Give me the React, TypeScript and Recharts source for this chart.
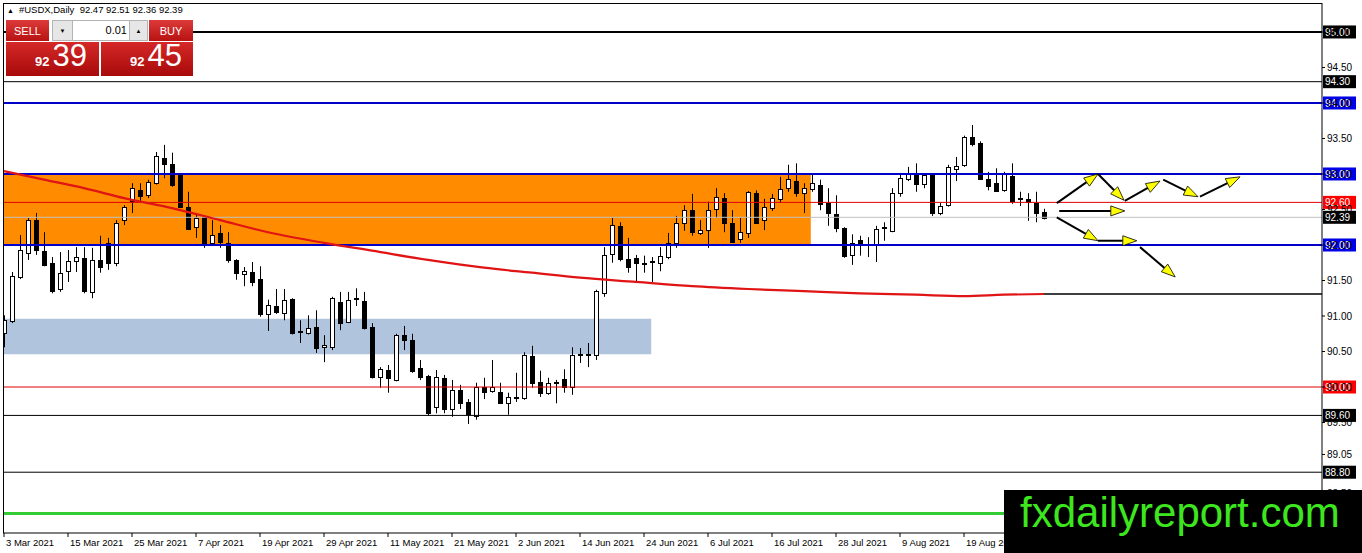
import React from "react";
import {
  ComposedChart, Bar, Line, XAxis, YAxis, ReferenceLine, ReferenceArea,
} from "recharts";

const FONT = '"Liberation Sans", Arial, sans-serif';

// daily candles, 3 Mar 2021 .. 1 Sep 2021
const OPEN = [
  90.76, 90.92, 91.55, 91.89, 92.35, 91.92, 91.75, 91.38, 91.63, 91.77,
  91.82, 91.34, 91.79, 92.03, 91.75, 92.35, 92.61, 92.77, 92.70, 92.87,
  93.23, 93.14, 92.99, 92.54, 92.25, 92.39, 92.03, 92.17, 92.03, 91.79,
  91.59, 91.62, 91.52, 91.03, 91.14, 91.04, 91.24, 90.78, 90.76, 90.85,
  90.56, 90.56, 91.20, 90.92, 91.25, 91.21, 90.85, 90.14, 90.24, 90.10,
  90.73, 90.66, 90.27, 90.15, 89.72, 90.13, 89.69, 89.96, 89.79, 89.59,
  90.00, 89.94, 89.93, 89.77, 89.85, 89.85, 90.44, 90.07, 89.92, 90.06,
  90.11, 90.00, 90.45, 90.45, 90.45, 91.32, 91.87, 92.27, 91.80, 91.82,
  91.75, 91.76, 91.75, 91.83, 92.03, 92.31, 92.49, 92.17, 92.21, 92.51,
  92.66, 92.31, 92.08, 92.17, 92.73, 92.35, 92.52, 92.65, 92.80, 92.90,
  92.73, 92.79, 92.85, 92.59, 92.44, 92.24, 91.86, 92.07, 92.00, 92.01,
  92.24, 92.20, 92.73, 92.92, 93.01, 92.86, 92.99, 92.45, 92.56, 93.07,
  93.13, 93.52, 93.44, 92.93, 92.87, 92.77, 92.97, 92.66, 92.65, 92.59, 92.47,
];
const HIGH = [
  91.01, 91.62, 92.14, 92.38, 92.45, 92.18, 91.83, 91.90, 91.93, 91.97,
  91.97, 91.96, 92.13, 92.10, 92.35, 92.56, 92.87, 92.87, 92.92, 93.31,
  93.41, 93.30, 93.01, 92.75, 92.45, 92.42, 92.35, 92.28, 92.18, 91.80,
  91.69, 91.76, 91.70, 91.23, 91.38, 91.38, 91.25, 90.94, 91.01, 91.08,
  90.73, 91.27, 91.34, 91.34, 91.39, 91.34, 90.90, 90.28, 90.31, 90.75,
  90.86, 90.75, 90.38, 90.17, 90.24, 90.17, 90.10, 90.03, 89.83, 90.06,
  90.13, 90.38, 90.06, 89.92, 90.20, 90.49, 90.58, 90.23, 90.13, 90.10,
  90.25, 90.56, 90.55, 90.62, 91.37, 91.97, 92.38, 92.32, 92.10, 91.86,
  91.85, 91.83, 91.97, 92.17, 92.41, 92.56, 92.72, 92.35, 92.61, 92.80,
  92.73, 92.49, 92.38, 92.76, 92.77, 92.65, 92.72, 92.96, 93.13, 93.15,
  92.87, 92.99, 92.92, 92.80, 92.70, 92.25, 92.15, 92.13, 92.11, 92.27,
  92.32, 92.80, 92.99, 93.10, 93.15, 93.01, 93.00, 92.59, 93.13, 93.24,
  93.54, 93.69, 93.46, 93.03, 93.08, 93.03, 93.15, 92.75, 92.73, 92.75, 92.51,
];
const LOW = [
  90.56, 90.90, 91.52, 91.79, 91.86, 91.70, 91.32, 91.34, 91.48, 91.62,
  91.32, 91.25, 91.61, 91.65, 91.70, 92.28, 92.45, 92.59, 92.66, 92.85,
  92.94, 92.82, 92.52, 92.21, 92.10, 91.96, 92.00, 91.96, 91.75, 91.51,
  91.42, 91.42, 90.99, 90.79, 91.03, 90.94, 90.74, 90.62, 90.74, 90.48,
  90.35, 90.52, 90.80, 90.90, 91.14, 90.81, 90.12, 89.99, 89.92, 90.08,
  90.52, 90.20, 90.10, 89.60, 89.63, 89.63, 89.58, 89.69, 89.48, 89.54,
  89.83, 89.92, 89.76, 89.61, 89.79, 89.82, 89.99, 89.86, 89.89, 89.77,
  89.92, 89.89, 90.34, 90.28, 90.38, 91.27, 91.75, 91.77, 91.61, 91.49,
  91.61, 91.48, 91.63, 91.80, 91.96, 92.20, 92.13, 92.14, 91.96, 92.38,
  92.18, 92.03, 92.03, 92.10, 92.30, 92.21, 92.48, 92.59, 92.75, 92.68,
  92.45, 92.75, 92.49, 92.27, 92.18, 91.82, 91.72, 91.85, 91.83, 91.76,
  92.06, 92.18, 92.68, 92.90, 92.75, 92.80, 92.41, 92.42, 92.54, 92.90,
  93.10, 93.39, 92.92, 92.77, 92.75, 92.75, 92.58, 92.55, 92.34, 92.32, 92.36,
];
const CLOSE = [
  90.94, 91.56, 91.93, 92.35, 91.93, 91.72, 91.35, 91.61, 91.77, 91.83,
  91.35, 91.79, 91.69, 91.75, 92.31, 92.54, 92.80, 92.68, 92.89, 93.25,
  93.15, 92.85, 92.54, 92.23, 92.38, 92.00, 92.14, 92.04, 91.79, 91.61,
  91.63, 91.48, 91.03, 91.15, 91.06, 91.23, 90.76, 90.79, 90.83, 90.55,
  90.59, 91.25, 90.90, 91.23, 91.24, 90.83, 90.15, 90.25, 90.13, 90.73,
  90.66, 90.23, 90.15, 89.63, 90.14, 89.70, 89.96, 89.77, 89.62, 90.00,
  89.93, 90.00, 89.77, 89.86, 89.86, 90.45, 90.06, 89.92, 90.06, 90.07,
  90.00, 90.45, 90.46, 90.46, 91.35, 91.86, 92.28, 91.80, 91.69, 91.75,
  91.74, 91.77, 91.85, 92.03, 92.31, 92.49, 92.18, 92.21, 92.49, 92.68,
  92.31, 92.04, 92.18, 92.75, 92.31, 92.54, 92.66, 92.79, 92.93, 92.73,
  92.80, 92.87, 92.58, 92.45, 92.24, 91.85, 92.03, 92.03, 92.01, 92.23,
  92.25, 92.73, 92.94, 93.01, 92.86, 92.99, 92.46, 92.55, 93.10, 93.11,
  93.52, 93.42, 92.94, 92.83, 92.76, 93.01, 92.62, 92.65, 92.61, 92.45, 92.39,
];

// moving average, read at a few bar positions
const MA_AT = [0, 5, 10, 15, 21, 27, 33, 40, 46, 53, 60, 66, 72, 79, 86, 93, 100, 107, 114, 120, 125, 130];
const MA_VAL = [
  93.04, 92.92, 92.80, 92.66, 92.52, 92.35, 92.18, 92.03, 91.92, 91.79, 91.68,
  91.61, 91.54, 91.48, 91.42, 91.38, 91.35, 91.32, 91.30, 91.28, 91.30, 91.31,
];

const X_TICKS = [0, 8, 16, 24, 32, 40, 48, 56, 64, 72, 80, 88, 96, 104, 112, 120, 128];
const X_LABELS = [
  "3 Mar 2021", "15 Mar 2021", "25 Mar 2021", "7 Apr 2021", "19 Apr 2021", "29 Apr 2021",
  "11 May 2021", "21 May 2021", "2 Jun 2021", "14 Jun 2021", "24 Jun 2021", "6 Jul 2021",
  "16 Jul 2021", "28 Jul 2021", "9 Aug 2021", "19 Aug 2021", "31 Aug 2021",
];
const Y_TICKS = [95, 94.5, 94, 93.5, 93, 92.5, 92, 91.5, 91, 90.5, 90, 89.5, 89.05, 88.5];

// horizontal levels
const BLACK_THICK = [95.0];
const BLACK_LEVELS = [94.3, 89.6, 88.8];
const BLUE_LEVELS = [94.0, 93.0, 92.0];
const RED_LEVELS = [92.6, 90.0];
const GREEN_LEVELS = [88.22];
const BID = 92.39;
const MA_END_LEVEL = 91.31;

// zones: [x from, x to, low, high]
const ORANGE_ZONE = [-0.125, 100.85, 92.0, 93.0];
const BLUE_ZONE = [-0.125, 80.9, 90.46, 90.96];

// forecast arrows: [x1, y1, x2, y2]
const ARROWS = [
  [131.6, 92.59, 136.75, 93.0],
  [136.75, 93.0, 140.0, 92.63],
  [140.1, 92.62, 144.5, 92.9],
  [144.9, 92.92, 149.25, 92.68],
  [149.5, 92.68, 154.5, 92.96],
  [131.9, 92.48, 140.1, 92.48],
  [131.6, 92.39, 136.75, 92.06],
  [136.75, 92.06, 141.6, 92.06],
  [142.0, 91.97, 146.4, 91.55],
];

const X_DOMAIN = [-0.125, 164.75];
const Y_DOMAIN = [87.944, 95.408];

const candles = OPEN.map((o, i) => ({
  i, o, h: HIGH[i], l: LOW[i], c: CLOSE[i], range: [LOW[i], HIGH[i]],
}));
const maData = MA_AT.map((i, k) => ({ i, ma: MA_VAL[k] }));

function Candle(props: any) {
  const { x, y, width, height, payload } = props;
  if (!payload || !isFinite(x) || !isFinite(y)) return null;
  const top = Math.min(y, y + height);
  const bot = Math.max(y, y + height);
  const k = (bot - top) / (payload.h - payload.l);
  const cx = Math.round(x + width / 2) + 0.5;
  const yo = top + (payload.h - payload.o) * k;
  const yc = top + (payload.h - payload.c) * k;
  const bt = Math.round(Math.min(yo, yc)) + 0.5;
  const bh = Math.max(Math.round(Math.abs(yo - yc)), 0.5);
  const up = payload.c >= payload.o;
  return (
    <g>
      <line x1={cx} x2={cx} y1={top} y2={bot} stroke="#000" strokeWidth={1} />
      <rect x={cx - 2} y={bt} width={4} height={bh} fill={up ? "#fff" : "#000"} stroke="#000" strokeWidth={1} />
    </g>
  );
}

function Arrow(props: any) {
  const { x1, y1, x2, y2 } = props;
  const a = Math.atan2(y2 - y1, x2 - x1);
  const len = 14, half = 5;
  const bx = x2 - len * Math.cos(a), by = y2 - len * Math.sin(a);
  const px = -Math.sin(a), py = Math.cos(a);
  const pts = `${x2},${y2} ${bx + half * px},${by + half * py} ${bx - half * px},${by - half * py}`;
  return (
    <g>
      <line x1={x1} y1={y1} x2={bx} y2={by} stroke="#000" strokeWidth={2} />
      <polygon points={pts} fill="#ffff00" stroke="#000" strokeWidth={0.8} />
    </g>
  );
}

const tag = (text: string, bg: string) => (p: any) => {
  const vb = p.viewBox;
  if (!vb) return null;
  const x = vb.x + vb.width + 1;
  const y = vb.y;
  return (
    <g>
      <rect x={x} y={y - 6.5} width={33} height={13} fill={bg} />
      <text x={x + 2} y={y + 3.6} fontSize={10} fontFamily={FONT} fill="#fff">{text}</text>
    </g>
  );
};

function DateTick(p: any) {
  const idx = X_TICKS.indexOf(p.payload.value);
  return (
    <text x={p.x + 2} y={p.y + 7} fontSize={9.5} fontFamily={FONT} fill="#000" textAnchor="start">
      {X_LABELS[idx]}
    </text>
  );
}

function PriceBox({ left, big }: { left: number; big: string }) {
  return (
    <div style={{
      position: "absolute", left, top: 42, width: left === 6 ? 93 : 92, height: 34,
      background: "linear-gradient(#d52828, #a80a0a)",
    }}>
      <div style={{ position: "absolute", left: 29, bottom: 5, color: "#fff", lineHeight: 1, whiteSpace: "nowrap" }}>
        <span style={{ fontSize: 13, fontWeight: "bold" }}>92</span>
        <span style={{ fontSize: 31, marginLeft: 3 }}>{big}</span>
      </div>
    </div>
  );
}

const btn: React.CSSProperties = {
  position: "absolute", top: 20, height: 21, color: "#fff", fontSize: 11,
  background: "linear-gradient(#dc3a3a, #b81212)", display: "flex",
  alignItems: "center", justifyContent: "center",
};

export default function App() {
  return (
    <div style={{ position: "absolute", left: 0, top: 0, width: 1362, height: 553, background: "#fff", overflow: "hidden", fontFamily: FONT }}>
      <ComposedChart width={1362} height={553} data={candles} margin={{ top: 3, right: 0, bottom: 0, left: 3 }} style={{ fontFamily: FONT }}>
        <ReferenceArea x1={ORANGE_ZONE[0]} x2={ORANGE_ZONE[1]} y1={ORANGE_ZONE[2]} y2={ORANGE_ZONE[3]} fill="#ff8c00" fillOpacity={1} stroke="none" ifOverflow="visible" />
        <ReferenceArea x1={BLUE_ZONE[0]} x2={BLUE_ZONE[1]} y1={BLUE_ZONE[2]} y2={BLUE_ZONE[3]} fill="#b0c4de" fillOpacity={1} stroke="none" ifOverflow="visible" />
        <XAxis
          type="number" dataKey="i" domain={X_DOMAIN} allowDataOverflow ticks={X_TICKS} interval={0}
          height={20} tickSize={4} tick={<DateTick />} stroke="#000"
        />
        <YAxis
          orientation="right" type="number" domain={Y_DOMAIN} allowDataOverflow ticks={Y_TICKS} interval={0}
          width={40} tickSize={3} tickMargin={2} stroke="#000"
          tick={{ fontSize: 10, fill: "#000", fontFamily: FONT }}
          tickFormatter={(v: number) => v.toFixed(2)}
        />
        {GREEN_LEVELS.map((v) => (
          <ReferenceLine key={"g" + v} y={v} stroke="#33cc33" strokeWidth={3} label={tag(v.toFixed(2), "#33cc33")} />
        ))}
        {BLACK_LEVELS.map((v) => (
          <ReferenceLine key={"k" + v} y={v} stroke="#000" strokeWidth={1} label={tag(v.toFixed(2), "#000")} />
        ))}
        {BLACK_THICK.map((v) => (
          <ReferenceLine key={"kk" + v} y={v} stroke="#000" strokeWidth={2} label={tag(v.toFixed(2), "#000")} />
        ))}
        <ReferenceLine y={BID} stroke="#c0c0c0" strokeWidth={1} label={tag(BID.toFixed(2), "#000")} />
        {RED_LEVELS.map((v) => (
          <ReferenceLine key={"r" + v} y={v} stroke="#e00000" strokeWidth={1} label={tag(v.toFixed(2), "#ff0000")} />
        ))}
        {BLUE_LEVELS.map((v) => (
          <ReferenceLine key={"b" + v} y={v} stroke="#0000c8" strokeWidth={2} label={tag(v.toFixed(2), "#0000e6")} />
        ))}
        <ReferenceLine
          segment={[{ x: MA_AT[MA_AT.length - 1], y: MA_END_LEVEL }, { x: X_DOMAIN[1], y: MA_END_LEVEL }]}
          stroke="#000" strokeWidth={1.5} ifOverflow="visible"
        />
        <Bar dataKey="range" barSize={6} shape={<Candle />} isAnimationActive={false} />
        <Line data={maData} dataKey="ma" type="monotone" stroke="#e01414" strokeWidth={2.2} dot={false} isAnimationActive={false} />
        {ARROWS.map((a, k) => (
          <ReferenceLine
            key={"a" + k}
            segment={[{ x: a[0], y: a[1] }, { x: a[2], y: a[3] }]}
            shape={(p: any) => <Arrow {...p} />}
            ifOverflow="visible"
          />
        ))}
      </ComposedChart>

      <div style={{ position: "absolute", left: 3, top: 3, width: 1319, height: 530, borderTop: "1px solid #000", borderLeft: "1px solid #000", pointerEvents: "none", boxSizing: "border-box" }} />

      <div style={{ position: "absolute", left: 7, top: 4, fontSize: 9.5, color: "#000", whiteSpace: "nowrap" }}>
        <span style={{ fontSize: 7, marginRight: 5 }}>▲</span>#USDX,Daily&nbsp;&nbsp;92.47 92.51 92.36 92.39
      </div>

      <div style={{ position: "absolute", left: 6, top: 20, width: 187, height: 56, background: "#fff" }} />
      <div style={{ ...btn, left: 6, width: 43 }}>SELL</div>
      <div style={{ position: "absolute", left: 52, top: 20, width: 19, height: 19, background: "#e6e6e6", border: "1px solid #b4b4b4", fontSize: 6, display: "flex", alignItems: "center", justifyContent: "center" }}>▼</div>
      <div style={{ position: "absolute", left: 72, top: 20, width: 54, height: 19, background: "#fff", border: "1px solid #b4b4b4", fontSize: 11, textAlign: "right", lineHeight: "19px", paddingRight: 2 }}>0.01</div>
      <div style={{ position: "absolute", left: 129, top: 20, width: 17, height: 19, background: "#e6e6e6", border: "1px solid #b4b4b4", fontSize: 6, display: "flex", alignItems: "center", justifyContent: "center" }}>▲</div>
      <div style={{ ...btn, left: 149, width: 44 }}>BUY</div>
      <PriceBox left={6} big="39" />
      <PriceBox left={101} big="45" />

      <div style={{ position: "absolute", left: 1004, top: 490, width: 358, height: 63, background: "#000" }}>
        <div style={{ position: "absolute", left: 16, top: 2, fontSize: 42, lineHeight: "42px", color: "#3de61e", whiteSpace: "nowrap" }}>
          fxdailyreport.com
        </div>
      </div>
    </div>
  );
}
